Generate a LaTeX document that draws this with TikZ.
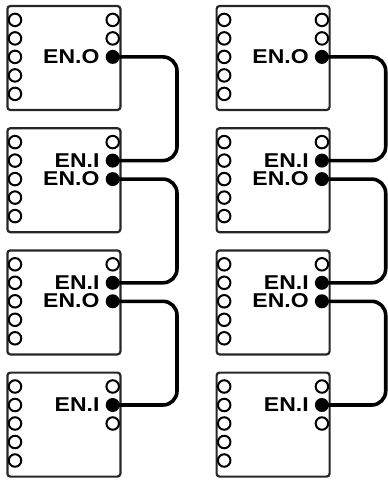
\documentclass[tikz,border=0pt]{standalone}
\usepackage{fontspec}
\newfontfamily\pinfont{Liberation Sans}
\usepackage{tikz}
\usetikzlibrary{calc, positioning}

\tikzset{
  board/.style={draw=black!85, line width=2.2pt, rounded corners=3pt, minimum width=113pt, minimum height=104pt, inner sep=0pt},
  padring/.style={circle, draw=black, line width=2pt, minimum size=12.5pt, inner sep=0pt},
  paddot/.style={circle, fill=black, minimum size=14pt, inner sep=0pt},
  pinlabel/.style={anchor=base east, inner sep=0pt, xscale=1.15, font=\pinfont\bfseries\fontsize{20}{20}\selectfont},
  wire/.style={line width=3.6pt, rounded corners=14pt}
}

\begin{document}
\begin{tikzpicture}[x=1pt, y=-1pt]
  \useasboundingbox (0,0) rectangle (388,483);

  % Boards with their left pin rows
  \foreach \c/\x in {L/63.9, R/273.1} {
    \foreach \r/\y in {1/58, 2/180.2, 3/302.4, 4/424.6} {
      \node[board] (\c\r) at (\x,\y) {};
      \foreach \j in {0,...,4}
        \node[padring] (\c\r l\j) at ($(\c\r.north west)+(8.7,15+18.5*\j)$) {};
    }
  }

  % Right pin rows
  \foreach \c in {L,R} {
    \foreach \r/\a/\b/\d in {1/padring/padring/paddot, 2/padring/paddot/paddot, 3/padring/paddot/paddot, 4/padring/paddot/padring} {
      \node[\a] (\c\r r0) at ($(\c\r.north east)+(-8.8,15)$) {};
      \node[\b] (\c\r r1) at ($(\c\r.north east)+(-8.8,33.5)$) {};
      \node[\d] (\c\r r2) at ($(\c\r.north east)+(-8.8,52)$) {};
    }
  }

  % Labels
  \foreach \c in {L,R} {
    \node[pinlabel] (\c1o) at ($(\c1r2.center)+(-13,6.5)$) {EN.O};
    \node[pinlabel] (\c2i) at ($(\c2r1.center)+(-13,6.5)$) {EN.I};
    \node[pinlabel] (\c2o) at ($(\c2r2.center)+(-13,6.5)$) {EN.O};
    \node[pinlabel] (\c3i) at ($(\c3r1.center)+(-13,6.5)$) {EN.I};
    \node[pinlabel] (\c3o) at ($(\c3r2.center)+(-13,6.5)$) {EN.O};
    \node[pinlabel] (\c4i) at ($(\c4r1.center)+(-13,6.5)$) {EN.I};
  }

  % Enable chain
  \coordinate (Lbus) at (177,0);
  \coordinate (Rbus) at (385.7,0);
  \foreach \c in {L,R} {
    \draw[wire] (\c1r2.center) -- (\c1r2 -| \c bus) |- (\c2r1.center);
    \draw[wire] (\c2r2.center) -- (\c2r2 -| \c bus) |- (\c3r1.center);
    \draw[wire] (\c3r2.center) -- (\c3r2 -| \c bus) |- (\c4r1.center);
  }
\end{tikzpicture}
\end{document}
